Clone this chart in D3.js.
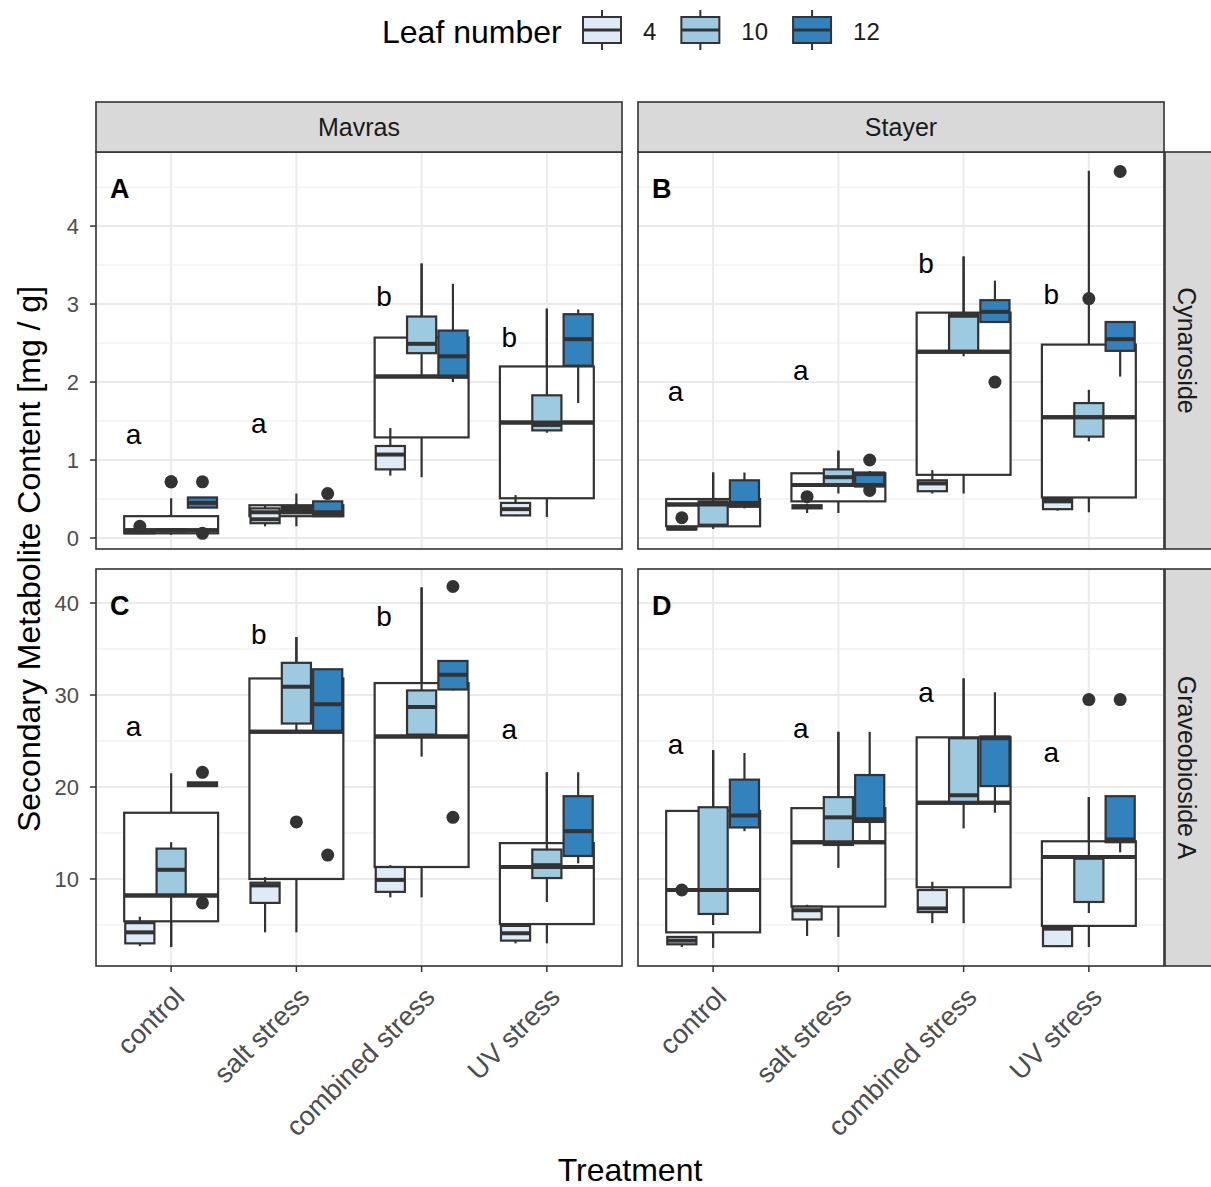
<!DOCTYPE html>
<html>
<head>
<meta charset="utf-8">
<script src="https://cdn.jsdelivr.net/npm/d3@7"></script>
<style>
  body { margin: 0; background: #fff; }
  text { font-family: "Liberation Sans", Arial, sans-serif; }
</style>
</head>
<body>
<svg></svg>
<script>
const WIDTH = 1211;
const HEIGHT = 1187;

const treatments = ["control", "salt stress", "combined stress", "UV stress"];
const cultivars = ["Mavras", "Stayer"];
const metabolites = ["Cynaroside", "Graveobioside A"];
const leafNumbers = ["4", "10", "12"];
const leafColors = ["#deebf7", "#9ecae1", "#3182bd"];

// [treatment, group, lower whisker, q1, median, q3, upper whisker, outliers]
// group "all" = all leaves pooled (white box)
const mavrasCynaroside = [
  ["control", "all", 0.04, 0.06, 0.10, 0.28, 0.51, [0.72]],
  ["control", "4", 0.05, 0.06, 0.08, 0.10, 0.11, [0.15]],
  ["control", "10", 0.08, 0.09, 0.10, 0.11, 0.12, [0.72]],
  ["control", "12", 0.39, 0.39, 0.45, 0.52, 0.52, [0.72, 0.06]],
  ["salt stress", "all", 0.15, 0.28, 0.33, 0.42, 0.57, []],
  ["salt stress", "4", 0.15, 0.19, 0.24, 0.38, 0.42, []],
  ["salt stress", "10", 0.33, 0.36, 0.38, 0.41, 0.45, []],
  ["salt stress", "12", 0.28, 0.28, 0.32, 0.47, 0.47, [0.57]],
  ["combined stress", "all", 0.78, 1.29, 2.07, 2.57, 3.52, []],
  ["combined stress", "4", 0.80, 0.88, 1.07, 1.18, 1.41, []],
  ["combined stress", "10", 2.07, 2.37, 2.49, 2.84, 3.52, []],
  ["combined stress", "12", 2.00, 2.06, 2.33, 2.66, 3.26, []],
  ["UV stress", "all", 0.27, 0.51, 1.48, 2.20, 2.94, []],
  ["UV stress", "4", 0.28, 0.29, 0.37, 0.45, 0.55, []],
  ["UV stress", "10", 1.35, 1.38, 1.45, 1.83, 2.94, []],
  ["UV stress", "12", 1.73, 2.21, 2.55, 2.87, 2.93, []]
];

const stayerCynaroside = [
  ["control", "all", 0.12, 0.15, 0.43, 0.50, 0.84, []],
  ["control", "4", 0.10, 0.11, 0.12, 0.14, 0.15, [0.26]],
  ["control", "10", 0.12, 0.17, 0.44, 0.47, 0.84, []],
  ["control", "12", 0.38, 0.40, 0.45, 0.74, 0.84, []],
  ["salt stress", "all", 0.32, 0.47, 0.68, 0.83, 1.12, []],
  ["salt stress", "4", 0.32, 0.38, 0.40, 0.42, 0.44, [0.53]],
  ["salt stress", "10", 0.57, 0.69, 0.78, 0.88, 1.12, []],
  ["salt stress", "12", 0.65, 0.66, 0.82, 0.84, 0.86, [1.0, 0.61]],
  ["combined stress", "all", 0.57, 0.81, 2.39, 2.89, 3.61, []],
  ["combined stress", "4", 0.57, 0.60, 0.70, 0.74, 0.87, []],
  ["combined stress", "10", 2.33, 2.40, 2.85, 2.87, 3.61, []],
  ["combined stress", "12", 2.76, 2.77, 2.90, 3.05, 3.30, [2.0]],
  ["UV stress", "all", 0.33, 0.52, 1.55, 2.48, 4.71, []],
  ["UV stress", "4", 0.35, 0.37, 0.47, 0.50, 0.50, []],
  ["UV stress", "10", 1.24, 1.30, 1.55, 1.73, 1.90, [3.07]],
  ["UV stress", "12", 2.07, 2.40, 2.55, 2.77, 2.77, [4.70]]
];

const mavrasGraveobioside = [
  ["control", "all", 2.6, 5.4, 8.2, 17.2, 21.5, []],
  ["control", "4", 2.7, 3.0, 4.2, 5.2, 5.9, []],
  ["control", "10", 2.6, 8.3, 11.0, 13.3, 14.0, []],
  ["control", "12", 20.1, 20.1, 20.3, 20.5, 20.5, [21.6, 7.4]],
  ["salt stress", "all", 4.2, 10.0, 26.0, 31.8, 36.3, []],
  ["salt stress", "4", 4.2, 7.4, 9.3, 9.6, 10.2, []],
  ["salt stress", "10", 26.0, 26.9, 30.9, 33.5, 36.3, [16.2]],
  ["salt stress", "12", 25.8, 26.0, 29.0, 32.8, 32.8, [12.6]],
  ["combined stress", "all", 8.0, 11.3, 25.5, 31.3, 41.7, []],
  ["combined stress", "4", 8.0, 8.6, 9.9, 11.3, 11.5, []],
  ["combined stress", "10", 23.3, 25.7, 28.7, 30.5, 41.7, []],
  ["combined stress", "12", 30.5, 30.6, 32.2, 33.7, 33.7, [41.8, 16.7]],
  ["UV stress", "all", 3.0, 5.1, 11.3, 13.9, 21.6, []],
  ["UV stress", "4", 3.0, 3.3, 4.1, 4.9, 5.0, []],
  ["UV stress", "10", 7.5, 10.1, 11.5, 13.2, 21.6, []],
  ["UV stress", "12", 11.7, 12.5, 15.2, 19.0, 21.6, []]
];

const stayerGraveobioside = [
  ["control", "all", 2.5, 4.2, 8.8, 17.4, 24.0, []],
  ["control", "4", 2.6, 2.9, 3.3, 3.7, 3.8, [8.8]],
  ["control", "10", 5.0, 6.2, 8.8, 17.8, 24.0, []],
  ["control", "12", 15.2, 15.6, 16.9, 20.8, 23.7, []],
  ["salt stress", "all", 3.7, 7.0, 14.0, 17.7, 26.0, []],
  ["salt stress", "4", 3.8, 5.6, 6.6, 7.0, 7.2, []],
  ["salt stress", "10", 11.2, 13.7, 16.7, 18.9, 26.0, []],
  ["salt stress", "12", 14.2, 16.2, 16.5, 21.3, 26.0, []],
  ["combined stress", "all", 5.2, 9.1, 18.3, 25.4, 31.8, []],
  ["combined stress", "4", 5.2, 6.4, 6.8, 8.8, 9.7, []],
  ["combined stress", "10", 15.5, 18.3, 19.1, 25.3, 31.8, []],
  ["combined stress", "12", 17.2, 20.1, 25.3, 25.5, 30.3, []],
  ["UV stress", "all", 2.6, 4.9, 12.4, 14.1, 18.9, []],
  ["UV stress", "4", 2.6, 2.7, 4.6, 4.8, 4.9, []],
  ["UV stress", "10", 6.3, 7.5, 12.3, 12.4, 18.9, [29.5]],
  ["UV stress", "12", 12.9, 14.0, 14.3, 19.0, 19.0, [29.5]]
];

// significance letters: [treatment, letter, y value]
const lettersA = [["control", "a", 1.33], ["salt stress", "a", 1.47], ["combined stress", "b", 3.10], ["UV stress", "b", 2.57]];
const lettersB = [["control", "a", 1.88], ["salt stress", "a", 2.15], ["combined stress", "b", 3.52], ["UV stress", "b", 3.13]];
const lettersC = [["control", "a", 26.6], ["salt stress", "b", 36.6], ["combined stress", "b", 38.6], ["UV stress", "a", 26.3]];
const lettersD = [["control", "a", 24.6], ["salt stress", "a", 26.4], ["combined stress", "a", 30.3], ["UV stress", "a", 23.8]];

const cynTicks = [0, 1, 2, 3, 4];
const cynMinor = [0.5, 1.5, 2.5, 3.5, 4.5];
const graTicks = [10, 20, 30, 40];
const graMinor = [5, 15, 25, 35];

// layout
const panelX = [96, 638];
const panelW = 526;
const panelY = [152, 569];
const panelH = 397;
const stripH = 50;
const stripW = 50;
const dark = "#333333";

var svg = d3.select("svg").attr("width", WIDTH).attr("height", HEIGHT);

const rows = [
  { domain: [-0.141, 4.95], ticks: cynTicks, minor: cynMinor },
  { domain: [0.54, 43.7], ticks: graTicks, minor: graMinor }
];

const panels = [
  { data: mavrasCynaroside, letters: lettersA, tag: "A", col: 0, row: 0 },
  { data: stayerCynaroside, letters: lettersB, tag: "B", col: 1, row: 0 },
  { data: mavrasGraveobioside, letters: lettersC, tag: "C", col: 0, row: 1 },
  { data: stayerGraveobioside, letters: lettersD, tag: "D", col: 1, row: 1 }
];

const x = d3.scalePoint().domain(treatments).range([0, panelW]).padding(0.6);
const step = x.step();
const dodgeW = step * 0.75 / 3;
const leafOffset = d3.scalePoint().domain(leafNumbers).range([-dodgeW, dodgeW]);
const colorOf = d3.scaleOrdinal().domain(leafNumbers).range(leafColors);

function drawBox(g, d, y, cx, w, fill) {
  const [t, grp, lo, q1, med, q3, hi] = d;
  g.append("line").attr("x1", cx).attr("x2", cx).attr("y1", y(hi)).attr("y2", y(q3))
    .attr("stroke", dark).attr("stroke-width", 2.2);
  g.append("line").attr("x1", cx).attr("x2", cx).attr("y1", y(q1)).attr("y2", y(lo))
    .attr("stroke", dark).attr("stroke-width", 2.2);
  g.append("rect").attr("x", cx - w / 2).attr("width", w)
    .attr("y", y(q3)).attr("height", Math.max(0.5, y(q1) - y(q3)))
    .attr("fill", fill).attr("stroke", dark).attr("stroke-width", 2.2);
  g.append("line").attr("x1", cx - w / 2).attr("x2", cx + w / 2)
    .attr("y1", y(med)).attr("y2", y(med))
    .attr("stroke", dark).attr("stroke-width", 4);
}

panels.forEach((p) => {
  const row = rows[p.row];
  const y = d3.scaleLinear().domain(row.domain).range([panelH, 0]);
  const g = svg.append("g")
    .attr("transform", `translate(${panelX[p.col]},${panelY[p.row]})`);

  g.append("rect").attr("width", panelW).attr("height", panelH).attr("fill", "#fff");

  // grid
  g.selectAll("line.minor").data(row.minor).enter().append("line")
    .attr("x1", 0).attr("x2", panelW).attr("y1", (d) => y(d)).attr("y2", (d) => y(d))
    .attr("stroke", "#ebebeb").attr("stroke-width", 1);
  g.selectAll("line.major").data(row.ticks).enter().append("line")
    .attr("x1", 0).attr("x2", panelW).attr("y1", (d) => y(d)).attr("y2", (d) => y(d))
    .attr("stroke", "#ebebeb").attr("stroke-width", 2);
  g.selectAll("line.vmajor").data(treatments).enter().append("line")
    .attr("x1", (d) => x(d)).attr("x2", (d) => x(d)).attr("y1", 0).attr("y2", panelH)
    .attr("stroke", "#ebebeb").attr("stroke-width", 2);

  const all = p.data.filter((d) => d[1] === "all");
  const leaves = p.data.filter((d) => d[1] !== "all");

  // pooled box underneath
  all.forEach((d) => drawBox(g, d, y, x(d[0]), step * 0.75, "#fff"));
  // leaf boxes
  leaves.forEach((d) => drawBox(g, d, y, x(d[0]) + leafOffset(d[1]), dodgeW * 0.93, colorOf(d[1])));
  // pooled median on top
  all.forEach((d) => {
    g.append("line").attr("x1", x(d[0]) - step * 0.375).attr("x2", x(d[0]) + step * 0.375)
      .attr("y1", y(d[4])).attr("y2", y(d[4]))
      .attr("stroke", dark).attr("stroke-width", 4);
  });

  // outliers
  p.data.forEach((d) => {
    const cx = x(d[0]) + (d[1] === "all" ? 0 : leafOffset(d[1]));
    d[7].forEach((v) => {
      g.append("circle").attr("cx", cx).attr("cy", y(v)).attr("r", 6.5).attr("fill", dark);
    });
  });

  // letters
  g.selectAll("text.letter").data(p.letters).enter().append("text")
    .attr("x", (d) => x(d[0]) - step * 0.3).attr("y", (d) => y(d[2]))
    .attr("dy", "0.35em").attr("text-anchor", "middle")
    .attr("font-size", 28).attr("fill", "#000").text((d) => d[1]);

  g.append("text").attr("x", 14).attr("y", 46).attr("font-size", 27)
    .attr("font-weight", "bold").attr("fill", "#000").text(p.tag);

  g.append("rect").attr("width", panelW).attr("height", panelH)
    .attr("fill", "none").attr("stroke", dark).attr("stroke-width", 1.6);

  // y axis on left column
  if (p.col === 0) {
    g.selectAll("line.ytick").data(row.ticks).enter().append("line")
      .attr("x1", -6).attr("x2", 0).attr("y1", (d) => y(d)).attr("y2", (d) => y(d))
      .attr("stroke", dark).attr("stroke-width", 1.5);
    g.selectAll("text.ytick").data(row.ticks).enter().append("text")
      .attr("x", -17).attr("y", (d) => y(d)).attr("dy", "0.36em")
      .attr("text-anchor", "end").attr("font-size", 22).attr("fill", "#4d4d4d")
      .text((d) => d);
  }
  // x axis on bottom row
  if (p.row === 1) {
    g.selectAll("line.xtick").data(treatments).enter().append("line")
      .attr("x1", (d) => x(d)).attr("x2", (d) => x(d)).attr("y1", panelH).attr("y2", panelH + 6)
      .attr("stroke", dark).attr("stroke-width", 1.5);
    g.selectAll("text.xtick").data(treatments).enter().append("text")
      .attr("transform", (d) => `translate(${x(d) + 1},${panelH + 19}) rotate(-45)`)
      .attr("dy", "0.72em").attr("text-anchor", "end")
      .attr("font-size", 27).attr("fill", "#4d4d4d").text((d) => d);
  }
});

// strips
cultivars.forEach((c, i) => {
  svg.append("rect").attr("x", panelX[i]).attr("y", panelY[0] - stripH)
    .attr("width", panelW).attr("height", stripH)
    .attr("fill", "#d9d9d9").attr("stroke", dark).attr("stroke-width", 1.6);
  svg.append("text").attr("x", panelX[i] + panelW / 2).attr("y", panelY[0] - stripH / 2)
    .attr("dy", "0.36em").attr("text-anchor", "middle").attr("font-size", 25)
    .attr("fill", "#1a1a1a").text(c);
});
metabolites.forEach((m, i) => {
  const sx = panelX[1] + panelW + 1;
  svg.append("rect").attr("x", sx).attr("y", panelY[i])
    .attr("width", stripW + 10).attr("height", panelH)
    .attr("fill", "#d9d9d9").attr("stroke", dark).attr("stroke-width", 1.6);
  svg.append("text")
    .attr("transform", `translate(${sx + 22},${panelY[i] + panelH / 2}) rotate(90)`)
    .attr("dy", "0.36em").attr("text-anchor", "middle").attr("font-size", 25)
    .attr("fill", "#1a1a1a").text(m);
});

// axis titles
svg.append("text").attr("transform", `translate(29,${(panelY[0] + panelY[1] + panelH) / 2}) rotate(-90)`)
  .attr("dy", "0.35em").attr("text-anchor", "middle").attr("font-size", 32)
  .attr("fill", "#000").text("Secondary Metabolite Content [mg / g]");
svg.append("text").attr("x", (panelX[0] + panelX[1] + panelW) / 2).attr("y", 1181)
  .attr("text-anchor", "middle").attr("font-size", 32).attr("fill", "#000").text("Treatment");

// legend
const legend = svg.append("g");
legend.append("text").attr("x", 382).attr("y", 31).attr("dy", "0.36em")
  .attr("font-size", 32).attr("fill", "#000").text("Leaf number");
var lx = 583;
leafNumbers.forEach((l, i) => {
  const k = legend.append("g").attr("transform", `translate(${lx},0)`);
  k.append("line").attr("x1", 19).attr("x2", 19).attr("y1", 10).attr("y2", 50)
    .attr("stroke", dark).attr("stroke-width", 2);
  k.append("rect").attr("x", 0).attr("y", 17).attr("width", 38).attr("height", 26)
    .attr("fill", colorOf(l)).attr("stroke", dark).attr("stroke-width", 2);
  k.append("line").attr("x1", 0).attr("x2", 38).attr("y1", 30).attr("y2", 30)
    .attr("stroke", dark).attr("stroke-width", 3);
  const t = legend.append("text").attr("x", lx + 60).attr("y", 31).attr("dy", "0.36em")
    .attr("font-size", 24).attr("fill", "#1a1a1a").text(l);
  lx = lx + 60 + t.node().getComputedTextLength() + 25;
});
</script>
</body>
</html>
